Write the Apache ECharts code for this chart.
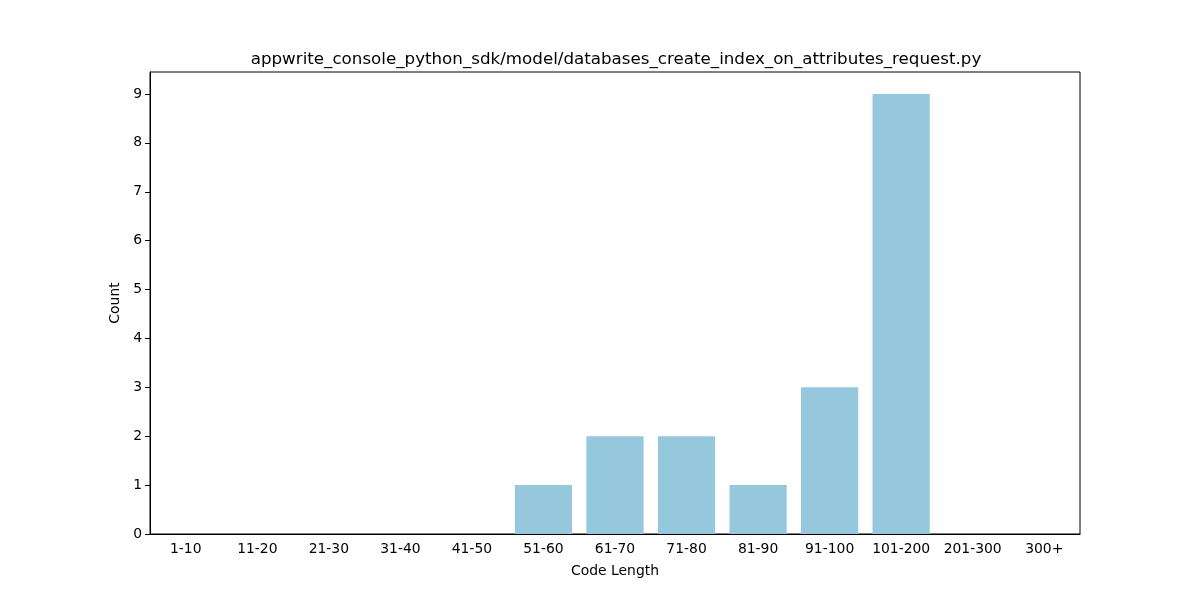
<!DOCTYPE html>
<html>
<head>
<meta charset="utf-8">
<script src="https://cdn.jsdelivr.net/npm/echarts@6/dist/echarts.min.js"></script>
<style>html,body{margin:0;padding:0;background:#fff}#c{width:1200px;height:600px}</style>
</head>
<body>
<div id="c"></div>
<script>
const categories = ['1-10','11-20','21-30','31-40','41-50','51-60','61-70','71-80','81-90','91-100','101-200','201-300','300+'];
const counts = [0,0,0,0,0,1,2,2,1,3,9,0,0];
const yTicks = [0,1,2,3,4,5,6,7,8,9];
const titleText = 'appwrite_console_python_sdk/model/databases_create_index_on_attributes_request.py';

const font = 'DejaVu Sans';
const chart = echarts.init(document.getElementById('c'), null, {renderer:'canvas'});
chart.setOption({
  animation: false,
  title: {
    text: titleText, left: 611, top: 46, textAlign: 'center',
    textStyle: {fontFamily: font, fontSize: 16.7, fontWeight: 'normal', color: '#000'}
  },
  grid: {left: 150, right: 120, top: 72, bottom: 66, show: true, borderColor: '#000', borderWidth: 1, backgroundColor: 'transparent'},
  xAxis: {
    type: 'category', data: categories,
    name: 'Code Length', nameLocation: 'middle', nameGap: 30,
    nameTextStyle: {fontFamily: font, fontSize: 13.9, color: '#000'},
    axisLine: {lineStyle: {color: '#000', width: 1}},
    axisTick: {alignWithLabel: true, length: 5, lineStyle: {color: '#000'}},
    axisLabel: {fontFamily: font, fontSize: 13.9, color: '#000', margin: 8, interval: 0},
    splitLine: {show: false}
  },
  yAxis: {
    type: 'value', min: 0, max: 9.45, interval: 1,
    name: 'Count', nameLocation: 'middle', nameGap: 22,
    nameTextStyle: {fontFamily: font, fontSize: 13.9, color: '#000'},
    axisLine: {show: true, lineStyle: {color: '#000', width: 1}},
    axisTick: {show: true, length: 5, lineStyle: {color: '#000'}, customValues: yTicks},
    axisLabel: {fontFamily: font, fontSize: 13.9, color: '#000', margin: 8, customValues: yTicks},
    splitLine: {show: false}
  },
  series: [{
    type: 'bar', data: counts, barCategoryGap: '20%',
    itemStyle: {color: '#95C8DC'}
  }]
});
</script>
</body>
</html>
